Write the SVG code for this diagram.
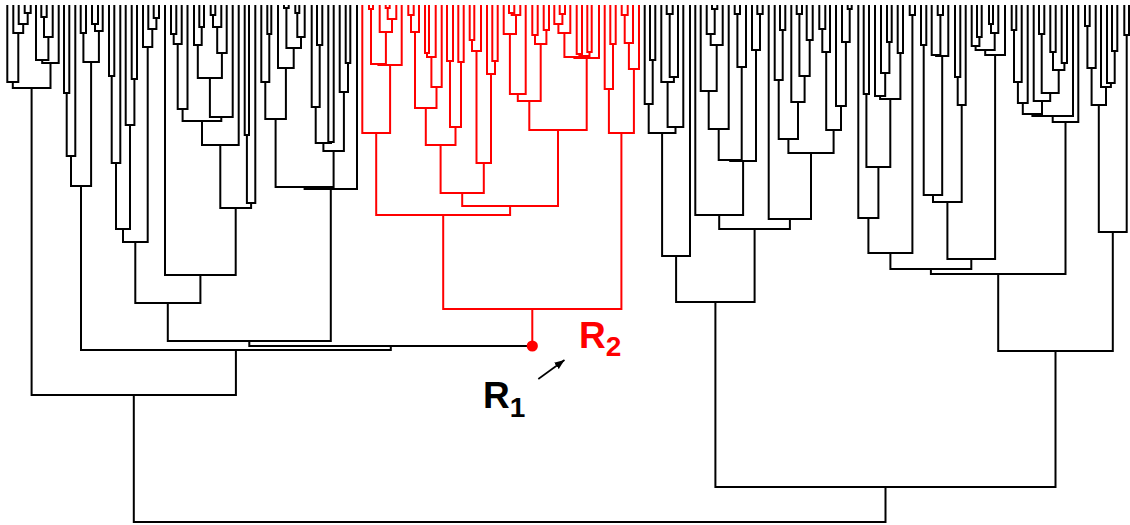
<svg xmlns="http://www.w3.org/2000/svg" width="1130" height="525" viewBox="0 0 1130 525">
<style>
.edge{fill:none;stroke:#000;stroke-width:2;stroke-linejoin:miter}
.red{stroke:#ff0000}
.lbl{font-family:"Liberation Sans",Arial,sans-serif;font-weight:bold}
</style>
<defs>
<marker id="ah" markerUnits="userSpaceOnUse" markerWidth="10" markerHeight="8" refX="10" refY="4" orient="auto"><path d="M0,0 L10,4 L0,8 z" fill="#000"/></marker>
</defs>
<rect width="1130" height="525" fill="#fff"/>
<g id="connectors">
<path id="tree-left" class="edge" d="M24.7 5V13H30.7V5M18.7 5V24H27.7V13M13.3 5V33H23.2V24M7.3 5V82H18.3V33M41.3 5V17H46.7V5M44 17V37H52.7V5M36 5V60H48.4V37M42.2 60V63H58.7V5M12.8 82V88H50.5V63M64 5V93H69.3V5M66.7 93V156H75.3V5M80.7 5V33H86V5M92 5V24H98V5M95 24V31H102.7V5M83.4 33V62H98.9V31M71 156V186H91.1V62M109 5V76H114.3V5M111.7 76V163H120.3V5M131.7 5V79H137V5M125.7 5V125H134.4V79M116 163V229H130V125M153.7 5V18H159V5M148.3 5V29H156.4V18M143 5V47H152.3V29M123 229V242H147.7V47M171 5V34H176.3V5M173.7 34V44H181.7V5M177.7 44V109H187.5V5M199.3 5V27H204V5M194 5V45H201.7V27M210.7 5V15H215.3V5M213 15V27H221.3V5M217.2 27V53H226.7V5M197.8 45V78H221.9V53M209.9 78V117H232.7V5M182.6 109V121H221.3V117M202 121V145H238.7V5M244.7 5V135H249V5M246.9 135V203H255.3V5M220.3 145V208H251.1V203M165 5V275H235.7V208M135.3 242V303H200.4V275M267.3 5V34H271.3V5M261.3 5V82H269.3V34M284 5V8H288.7V5M295.3 5V13H299.3V5M297.3 13V37H304.7V5M286.4 8V48H301V37M278 5V68H293.7V48M265.3 82V119H285.9V68M317 5V45H322.3V5M311.7 5V107H319.7V45M328.3 5V142H333.7V5M315.7 107V143H331V142M345.7 5V63H350.3V5M339.7 5V92H348V63M323.4 143V151H343.9V92M275.6 119V187H333.6V151M304.6 187V189H357V5M167.8 303V341H330.8V189M249.3 341V346H532.3M81 186V350H390.8V346M31.6 88V395H235.9V350"/>
<path id="tree-red" class="edge red" d="M369 5V9H373V5M385.7 5V8H389.7V5M387.7 8V19H396.3V5M379.7 5V32H392V19M371 9V64H385.9V32M378.4 64V65H401.7V5M362.3 5V133H390.1V65M408.3 5V15H413.7V5M411 15V32H419V5M425 5V53H429V5M427 53V57H435.7V5M431.4 57V87H441.7V5M415 32V108H436.5V87M447 5V61H453V5M458.3 5V62H463.7V5M450 61V127H461V62M425.8 108V145H455.5V127M469.7 5V40H474.3V5M472 40V51H481V5M492.3 5V61H497.7V5M487 5V74H495V61M476.5 51V163H491V74M440.6 145V193H483.8V163M509 5V13H514.3V5M511.7 13V15H520.3V5M503.7 5V34H516V15M509.9 34V94H525.7V5M532.3 5V35H537.7V5M543.7 5V30H549V5M535 35V44H546.4V30M517.8 94V101H540.7V44M559.7 5V14H565V5M554.3 5V24H562.4V14M558.4 24V33H570.3V5M576.7 5V54H582V5M587.3 5V52H591.7V5M579.4 54V56H589.5V52M564.4 33V57H584.5V56M574.4 57V58H599V5M529.3 101V130H586.7V58M462.2 193V206H558V130M376.2 133V215H510.1V206M610.3 5V44H615.7V5M604.7 5V89H613V44M621.7 5V15H627.7V5M624.7 15V43H633V5M628.9 43V69H639V5M608.9 89V133H633.9V69M443.2 215V309H621.4V133M532.3 309V346"/>
<path id="tree-right" class="edge" d="M650 5V60H655.3V5M644.7 5V104H652.7V60M666.7 5V14H672.7V5M669.7 14V77H678V5M661.3 5V82H673.9V77M667.6 82V127H683.3V5M648.7 104V133H675.5V127M662.1 133V256H690V5M712 5V9H717.3V5M706.7 5V34H714.7V9M710.7 34V45H722.7V5M700.7 5V91H716.7V45M708.7 91V129H728.7V5M734.7 5V14H740V5M737.4 14V67H746V5M757.3 5V14H762.7V5M752 5V50H760V14M718.7 129V160H741.7V67M730.2 160V161H756V50M695.3 5V215H743.1V161M780 5V30H785.3V5M774.7 5V80H782.7V30M796.7 5V14H802V5M806.7 5V40H812.7V5M799.4 14V76H809.7V40M791.3 5V102H804.6V76M778.7 80V139H798V102M819.3 5V29H825.3V5M822.3 29V52H830V5M847.7 5V9H851.7V5M842 5V42H849.7V9M836 5V106H845.9V42M826.2 52V130H841V106M788.4 139V153H833.6V130M768.7 5V219H811V153M719.2 215V229H789.9V219M676.1 256V302H754.6V229M863.7 5V94H869V5M887 5V42H891.7V5M881 5V73H889.4V42M875 5V96H885.2V73M897.7 5V53H903V5M880.1 96V99H900.4V53M866.4 94V167H890.3V99M858.3 5V218H878.4V167M909.7 5V15H915V5M868.4 218V253H912.4V15M921 5V45H926.3V5M937.7 5V15H943V5M931.7 5V55H940.4V15M936.1 55V56H948.3V5M923.7 45V195H942.2V56M955 5V77H960.3V5M957.7 77V105H965.7V5M933 195V202H961.7V105M977 5V37H981.7V5M971.7 5V46H979.4V37M989 5V24H993V5M991 24V33H998.3V5M975.6 46V50H994.7V33M985.2 50V55H1005V5M947.4 202V259H995.1V55M890.4 253V269H971.3V259M1011.7 5V30H1016.3V5M1014 30V82H1021.7V5M1017.9 82V103H1027.7V5M1039 5V34H1044.3V5M1050.3 5V52H1055.7V5M1061.7 5V63H1067V5M1053 52V70H1064.4V63M1041.7 34V93H1058.7V70M1033.7 5V101H1050.2V93M1022.8 103V114H1042V101M1032.4 114V116H1073V5M1052.7 116V122H1078.3V5M930.9 269V274H1065.5V122M1085 5V26H1089.7V5M1087.4 26V68H1095.7V5M1112 5V51H1117.3V5M1107 5V83H1114.7V51M1101 5V87H1110.9V83M1091.6 68V105H1106V87M1124.3 5V35H1129V5M1098.8 105V232H1126.7V35M998.2 274V351H1112.8V232M715.4 302V487H1055.5V351"/>
<path id="tree-root" class="edge" d="M133.8 395V522H885.5V487"/>
<line id="arrow" x1="538.3" y1="379" x2="564.5" y2="360" stroke="#000" stroke-width="1.6" marker-end="url(#ah)"/>
</g>
<g id="node-R2-point"><circle cx="532.3" cy="346" r="5.6" fill="#ff0000"/></g>
<g id="label-R1"><text class="lbl" x="483" y="408" font-size="37" fill="#000">R<tspan font-size="28" dy="9">1</tspan></text></g>
<g id="label-R2"><text class="lbl" x="579" y="348" font-size="37" fill="#ff0000">R<tspan font-size="28" dy="8">2</tspan></text></g>
</svg>
